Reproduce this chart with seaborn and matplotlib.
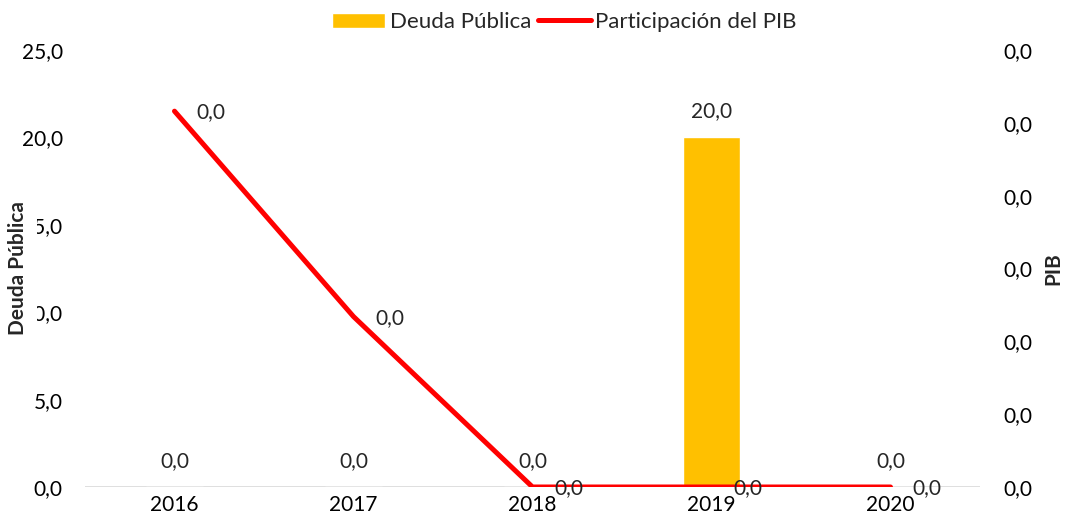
import numpy as np
import pandas as pd
import matplotlib
matplotlib.use('Agg')
import matplotlib.pyplot as plt
from matplotlib.ticker import FuncFormatter
import seaborn as sns

# Data
years = ['2016', '2017', '2018', '2019', '2020']
deuda = [0.0, 0.0, 0.0, 20.0, 0.0]
pib = [0.000258, 0.000117, 0.0, 0.0, 0.0]

sns.set_theme(style='white')
plt.rcParams['font.family'] = ['Lato', 'DejaVu Sans']

df = pd.DataFrame({'year': years, 'deuda': deuda, 'pib': pib, 'pos': np.arange(len(years))})

fmt = FuncFormatter(lambda v, p: f"{v:.1f}".replace('.', ','))

fig = plt.figure(figsize=(10.65, 5.29), dpi=100)
ax = fig.add_axes([0.0798, 0.0794, 0.8404, 0.8261])

sns.barplot(data=df, x='year', y='deuda', color='#FFC000', width=0.32, ax=ax,
            saturation=1, label='Deuda Pública')
if ax.get_legend() is not None:
    ax.get_legend().remove()
ax.set_xlim(-0.5, 4.5)
ax.set_ylim(0, 25)
ax.set_yticks(np.arange(0, 26, 5))
ax.yaxis.set_major_formatter(fmt)
ax.axhline(0, color='#D9D9D9', lw=1.2, zorder=0)
for s in ax.spines.values():
    s.set_visible(False)
ax.tick_params(axis='x', labelsize=15, length=0, colors='black', pad=6)
ax.tick_params(axis='y', labelsize=15, length=0, colors='black', pad=16)
ax.set_xlabel('')
# the label box covers part of the tick labels, like in the original
ax.set_ylabel('Deuda Pública', fontsize=15, fontweight='bold',
              bbox=dict(facecolor='white', edgecolor='none', pad=7))
ax.yaxis.set_label_coords(-0.064, 0.5)

for i, v in enumerate(deuda):
    ax.annotate(f"{v:.1f}".replace('.', ','), (i, v), xytext=(0, 19),
                textcoords='offset points', ha='center', va='center', fontsize=15)

ax2 = ax.twinx()
sns.lineplot(data=df, x='pos', y='pib', color='#FF0000', lw=3.6, ax=ax2,
             label='Participación del PIB', legend=False)
ax2.set_ylim(0, 0.0003)
ax2.set_yticks(np.linspace(0, 0.0003, 7))
ax2.yaxis.set_major_formatter(fmt)
for s in ax2.spines.values():
    s.set_visible(False)
ax2.tick_params(axis='y', labelsize=15, length=0, colors='black', pad=17)
ax2.set_ylabel('PIB', fontsize=15, fontweight='bold')
ax2.yaxis.set_label_coords(1.071, 0.5)
ax2.set_xlabel('')
ax.set_xlim(-0.5, 4.5)

for i, v in enumerate(pib):
    ax2.annotate(f"{v:.1f}".replace('.', ','), (i, v), xytext=(26, -1),
                 textcoords='offset points', ha='center', va='center', fontsize=15)

h1, l1 = ax.get_legend_handles_labels()
h2, l2 = ax2.get_legend_handles_labels()
fig.legend(h1 + h2, l1 + l2, loc='upper center', bbox_to_anchor=(0.53, 1.015), ncol=2,
           frameon=False, fontsize=16, handlelength=2.4, handletextpad=0.2, columnspacing=0.3)

fig.savefig('out.png', dpi=100)
